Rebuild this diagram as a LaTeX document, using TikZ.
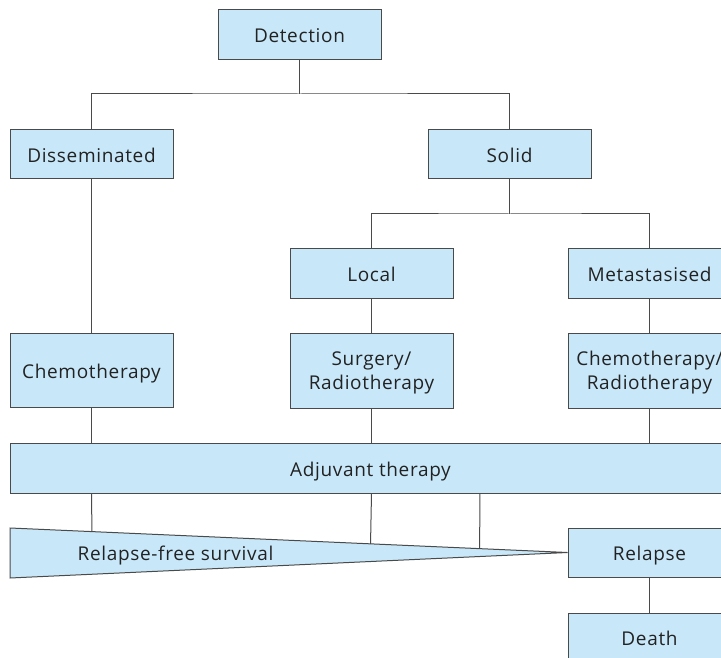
\documentclass[tikz,border=0pt]{standalone}
\usepackage{fontspec}
\setmainfont{Open Sans}[LetterSpace=3.5]
\usetikzlibrary{calc}
\definecolor{boxblue}{HTML}{C8E8FA}
\definecolor{linegray}{HTML}{4A4A4A}
\definecolor{textgray}{HTML}{222222}
\newcommand{\twolines}[2]{\raisebox{-1.7pt}[\height][\depth]{\begin{tabular}{@{}c@{}}#1\\#2\end{tabular}}}
\tikzset{
  lbl/.style={text=textgray, font=\fontsize{19}{24}\selectfont},
  box/.style={draw=linegray, fill=boxblue, line width=1pt, minimum width=163pt, minimum height=49pt, inner sep=0pt, lbl, text height=16pt, text depth=0pt},
  twoline/.style={text height=, text depth=},
  conn/.style={draw=linegray, line width=1pt},
}
\begin{document}
\begin{tikzpicture}[x=1pt,y=-1pt]
\useasboundingbox (0,0) rectangle (721,658);
\clip (0,0) rectangle (721,658);
\node[box, minimum height=50pt] (det) at (299.5,35) {Detection};
\node[box] (dis) at (91.5,154.5) {Disseminated};
\node[box] (sol) at (509.5,154.5) {Solid};
\node[box] (loc) at (371.5,273.5) {Local};
\node[box] (met) at (649.5,273.5) {Metastasised};
\node[box, minimum height=74pt] (che) at (91.5,370) {Chemotherapy};
\node[box, twoline, minimum height=75pt] (sur) at (371.5,370.5) {\twolines{Surgery/}{Radiotherapy}};
\node[box, twoline, minimum height=75pt] (chr) at (649.5,370.5) {\twolines{Chemotherapy/}{Radiotherapy}};
\node[box, minimum width=721pt, minimum height=50pt] (adj) at (370.5,468) {Adjuvant therapy};
\node[box] (rel) at (649.5,552.5) {Relapse};
\node[box] (dea) at (649.5,637.5) {Death};
% triangle
\coordinate (t1) at (10,528);
\coordinate (t2) at (10,578);
\coordinate (tip) at (rel.west);
\filldraw[conn, fill=boxblue] (t1) -- (tip) -- (t2) -- cycle;
\node[lbl, inner sep=0pt, text height=16pt, text depth=0pt] (rfs) at (175.5,552) {Relapse-free survival};
% connectors
\coordinate (r1) at (0,94);
\coordinate (r2) at (0,214);
\draw[conn] (det.south) -- (r1 -| det.south);
\draw[conn] (dis.north) |- (r1 -| det.south) -| (sol.north);
\draw[conn] (sol.south) -- (r2 -| sol.south);
\draw[conn] (loc.north) |- (r2 -| sol.south) -| (met.north);
\draw[conn] (dis.south) -- (che.north);
\draw[conn] (loc.south) -- (sur.north);
\draw[conn] (met.south) -- (chr.north);
\draw[conn] (che.south) -- (adj.north -| che.south);
\draw[conn] (sur.south) -- (adj.north -| sur.south);
\draw[conn] (chr.south) -- (adj.north -| chr.south);
\draw[conn] (adj.south -| che.south) -- ($(t1)!0.147!(tip)$);
\draw[conn] (adj.south -| sur.south) -- ($(t1)!0.6467!(tip)$);
\draw[conn] (adj.south -| 480,0) -- ($(t1)!0.8423!(tip)$);
\draw[conn] (rel.south) -- (dea.north);
\end{tikzpicture}
\end{document}
